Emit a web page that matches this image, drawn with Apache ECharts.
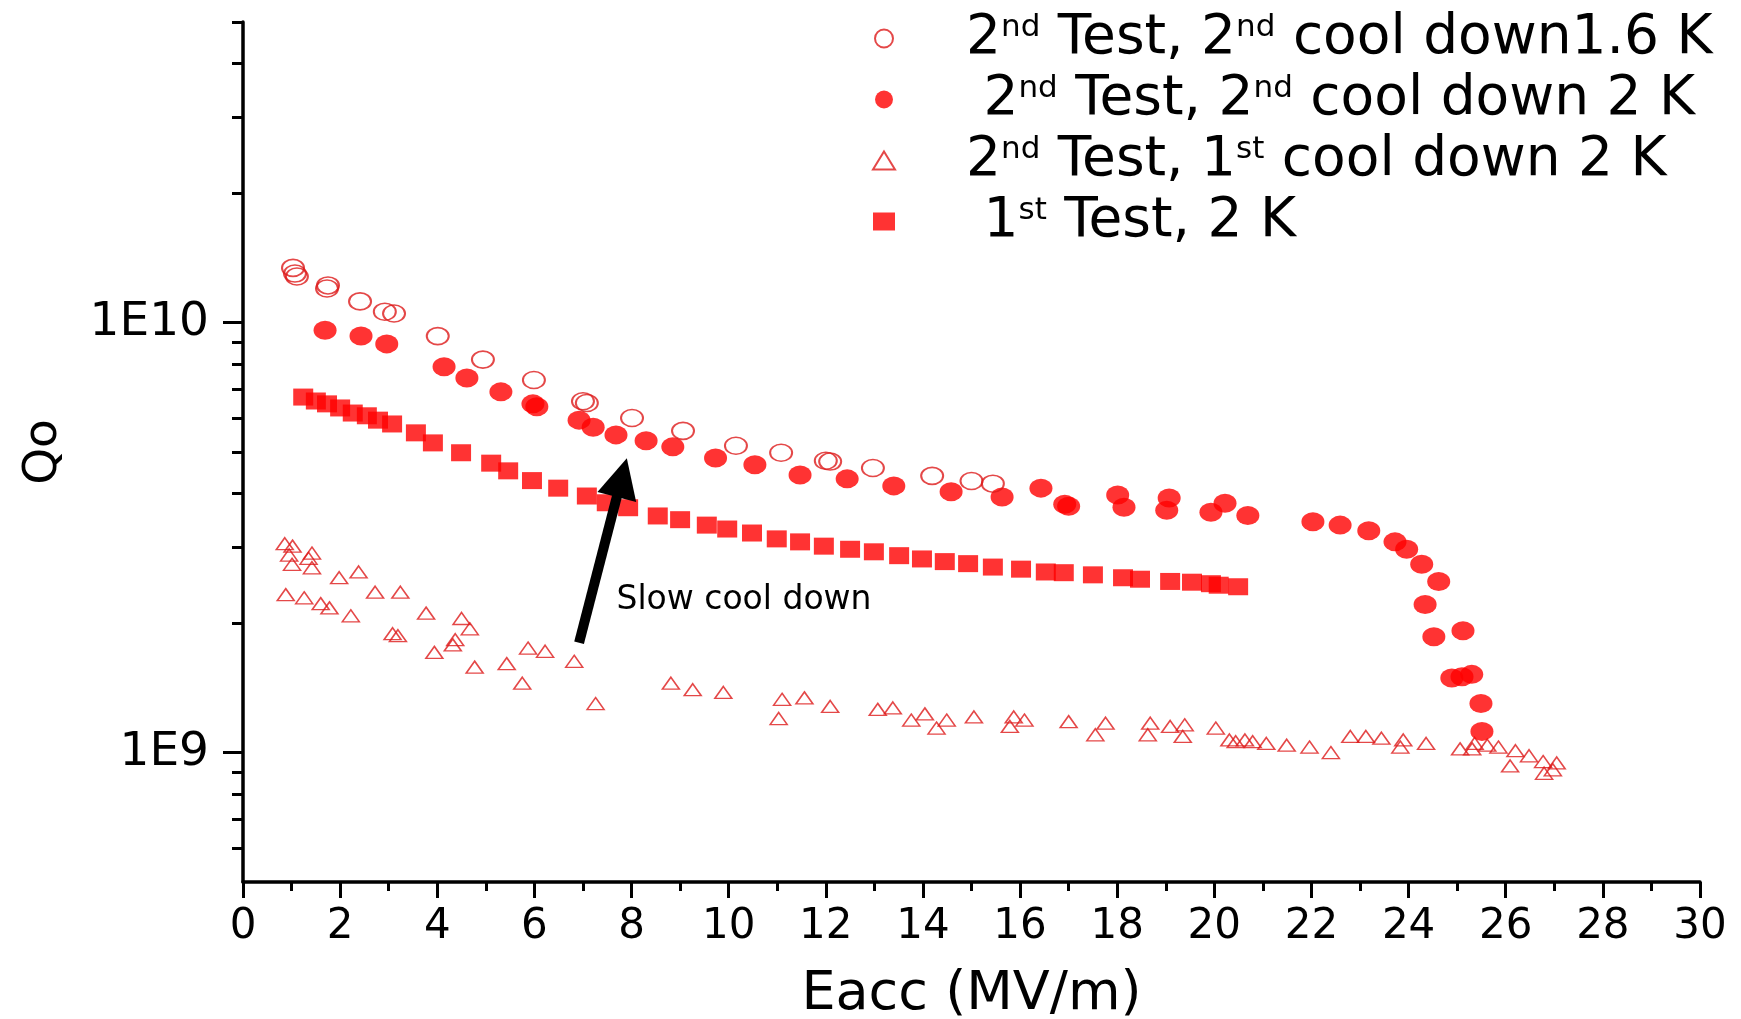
<!DOCTYPE html>
<html>
<head>
<meta charset="utf-8">
<script src="https://cdn.jsdelivr.net/npm/echarts@6.0.0/dist/echarts.min.js"></script>
<style>
  html, body { margin: 0; padding: 0; background: #fff; }
  #chart { width: 1741px; height: 1019px; }
</style>
</head>
<body>
<div id="chart"></div>
<script>
// data: [Eacc (MV/m), Qo]
const test2Cool2At16K = [
  [1.03, 1.34e10], [1.07, 1.30e10], [1.11, 1.28e10], [1.75, 1.22e10], [1.73, 1.20e10],
  [2.41, 1.12e10], [2.92, 1.06e10], [3.11, 1.05e10], [4.01, 9.3e9], [4.94, 8.2e9],
  [5.99, 7.35e9], [7.00, 6.56e9], [7.08, 6.5e9], [8.01, 6.0e9], [9.06, 5.6e9],
  [10.15, 5.17e9], [11.08, 4.98e9], [12.00, 4.77e9], [12.09, 4.75e9], [12.97, 4.59e9],
  [14.19, 4.40e9], [15.00, 4.28e9], [15.44, 4.22e9]
];
const test2Cool2At2K = [
  [1.69, 9.6e9], [2.43, 9.31e9], [2.96, 8.92e9], [4.14, 7.89e9], [4.61, 7.43e9],
  [5.31, 6.9e9], [5.97, 6.47e9], [6.05, 6.37e9], [6.92, 5.93e9], [7.21, 5.71e9],
  [7.68, 5.48e9], [8.30, 5.31e9], [8.85, 5.14e9], [9.73, 4.84e9], [10.54, 4.67e9],
  [11.47, 4.42e9], [12.44, 4.33e9], [13.40, 4.17e9], [14.58, 4.04e9], [15.63, 3.93e9],
  [16.43, 4.12e9], [16.92, 3.78e9], [17.00, 3.74e9], [18.01, 3.97e9], [18.14, 3.72e9],
  [19.07, 3.91e9], [19.02, 3.66e9], [19.93, 3.62e9], [20.22, 3.80e9], [20.69, 3.56e9],
  [22.03, 3.44e9], [22.59, 3.38e9], [23.18, 3.28e9], [23.72, 3.09e9], [23.96, 2.97e9],
  [24.27, 2.74e9], [24.62, 2.50e9], [24.34, 2.21e9], [24.52, 1.86e9], [25.12, 1.92e9],
  [24.89, 1.49e9], [25.10, 1.50e9], [25.30, 1.52e9], [25.49, 1.30e9], [25.51, 1.12e9]
];
const test2Cool1At2K = [
  [0.86, 3.06e9], [1.02, 3.02e9], [0.95, 2.88e9], [1.01, 2.74e9], [1.42, 2.91e9],
  [1.35, 2.83e9], [1.42, 2.69e9], [0.88, 2.33e9], [1.26, 2.29e9], [1.60, 2.22e9],
  [1.78, 2.17e9], [1.98, 2.55e9], [2.38, 2.63e9], [2.22, 2.08e9], [2.72, 2.36e9],
  [3.24, 2.36e9], [3.77, 2.11e9], [4.50, 2.05e9], [4.67, 1.94e9], [3.08, 1.89e9],
  [3.19, 1.87e9], [3.94, 1.71e9], [4.32, 1.78e9], [4.37, 1.83e9], [4.77, 1.58e9],
  [5.43, 1.61e9], [5.75, 1.45e9], [5.87, 1.75e9], [6.22, 1.72e9], [6.82, 1.63e9],
  [7.26, 1.30e9], [8.81, 1.45e9], [9.26, 1.40e9], [9.89, 1.38e9], [11.10, 1.33e9],
  [11.03, 1.20e9], [11.56, 1.34e9], [12.09, 1.28e9], [13.07, 1.26e9], [13.38, 1.27e9],
  [13.76, 1.19e9], [14.04, 1.23e9], [14.28, 1.14e9], [14.49, 1.19e9], [15.05, 1.21e9],
  [15.79, 1.15e9], [15.87, 1.21e9], [16.09, 1.19e9], [17.00, 1.18e9], [17.55, 1.10e9],
  [17.76, 1.17e9], [18.63, 1.10e9], [18.68, 1.17e9], [19.09, 1.15e9], [19.35, 1.09e9],
  [19.39, 1.16e9], [20.03, 1.14e9], [20.31, 1.07e9], [20.44, 1.06e9], [20.63, 1.07e9],
  [20.79, 1.06e9], [21.07, 1.05e9], [21.49, 1.04e9], [21.96, 1.03e9], [22.40, 1.00e9],
  [22.80, 1.09e9], [23.12, 1.09e9], [23.44, 1.08e9], [23.83, 1.03e9], [23.89, 1.07e9],
  [24.36, 1.05e9], [25.06, 1.02e9], [25.31, 1.02e9], [25.36, 1.05e9], [25.62, 1.04e9],
  [25.85, 1.03e9], [26.20, 1.01e9], [26.09, 9.31e8], [26.48, 9.83e8], [26.77, 9.53e8],
  [26.79, 8.95e8], [26.97, 9.12e8], [27.05, 9.46e8]
];
const test1At2K = [
  [1.24, 6.71e9], [1.50, 6.57e9], [1.73, 6.47e9], [2.00, 6.33e9], [2.26, 6.16e9],
  [2.55, 6.07e9], [2.78, 5.93e9], [3.07, 5.81e9], [3.56, 5.54e9], [3.91, 5.25e9],
  [4.49, 4.98e9], [5.11, 4.71e9], [5.46, 4.52e9], [5.95, 4.29e9], [6.49, 4.12e9],
  [7.08, 3.95e9], [7.49, 3.81e9], [7.93, 3.71e9], [8.54, 3.55e9], [9.00, 3.48e9],
  [9.55, 3.38e9], [9.97, 3.31e9], [10.48, 3.24e9], [10.99, 3.14e9], [11.47, 3.09e9],
  [11.96, 3.02e9], [12.50, 2.97e9], [12.99, 2.93e9], [13.51, 2.87e9], [13.98, 2.82e9],
  [14.45, 2.78e9], [14.93, 2.75e9], [15.44, 2.70e9], [16.02, 2.67e9], [16.53, 2.63e9],
  [16.90, 2.62e9], [17.50, 2.59e9], [18.12, 2.55e9], [18.47, 2.53e9], [19.09, 2.50e9],
  [19.54, 2.49e9], [19.93, 2.47e9], [20.09, 2.45e9], [20.49, 2.43e9]
];

// axis ticks
const yMajorTicks = [1e9, 1e10];
const yMinorTicks = [6e8, 7e8, 8e8, 9e8, 2e9, 3e9, 4e9, 5e9, 6e9, 7e9, 8e9, 9e9, 2e10, 3e10, 4e10, 5e10];

// legend names and their superscript markup
const seriesNames = ['t2c2_16', 't2c2_2', 't2c1_2', 't1_2'];
const legendLabels = {
  t2c2_16: '{b|2}{s|nd}{b| Test, 2}{s|nd}{b| cool down1.6 K}',
  t2c2_2: '{b| 2}{s|nd}{b| Test, 2}{s|nd}{b| cool down 2 K}',
  t2c1_2: '{b|2}{s|nd}{b| Test, 1}{s|st}{b| cool down 2 K}',
  t1_2: '{b| 1}{s|st}{b| Test, 2 K}'
};

// arrow annotation ("Slow cool down")
const arrowTail = [6.92, 1.80e9];
const arrowHead = [7.80, 4.36e9];
const noteAt = [7.68, 2.26e9];

const FONT = 'DejaVu Sans';
const RED = '#ff0000';
const RED_LINE = '#dd1a1a';

const chart = echarts.init(document.getElementById('chart'));

const yAxisBase = {
  type: 'log',
  logBase: 10,
  min: 5e8,
  max: 5e10,
  position: 'left',
  splitLine: { show: false }
};

const option = {
  animation: false,
  backgroundColor: '#ffffff',
  grid: { left: 243, right: 41, top: 22, bottom: 137, containLabel: false, outerBoundsMode: 'none' },
  legend: {
    orient: 'vertical',
    left: 867,
    top: 6,
    itemWidth: 22,
    itemHeight: 18,
    itemGap: 6,
    selectedMode: false,
    data: seriesNames,
    formatter: function (name) { return legendLabels[name]; },
    textStyle: {
      color: '#000',
      padding: [0, 0, 0, 66],
      rich: {
        b: { fontFamily: FONT, fontSize: 55, lineHeight: 52, color: '#000' },
        s: { fontFamily: FONT, fontSize: 31, lineHeight: 30, color: '#000', verticalAlign: 'top' }
      }
    }
  },
  xAxis: {
    type: 'value',
    min: 0,
    max: 30,
    interval: 2,
    name: 'Eacc (MV/m)',
    nameLocation: 'middle',
    nameGap: 86,
    nameTextStyle: { fontFamily: FONT, fontSize: 54, color: '#000' },
    axisLine: { show: true, lineStyle: { color: '#000', width: 3.5 } },
    axisTick: { show: true, length: 16, lineStyle: { color: '#000', width: 3 } },
    minorTick: { show: true, splitNumber: 2, length: 9, lineStyle: { color: '#000', width: 3 } },
    axisLabel: { fontFamily: FONT, fontSize: 42, color: '#000', margin: 24 },
    splitLine: { show: false }
  },
  yAxis: [
    Object.assign({}, yAxisBase, {
      name: 'Qo',
      nameLocation: 'middle',
      nameRotate: 90,
      nameGap: 176,
      nameTextStyle: { fontFamily: FONT, fontSize: 47, color: '#000' },
      axisLine: { show: true, lineStyle: { color: '#000', width: 3.5 } },
      axisTick: { show: true, length: 20, customValues: yMajorTicks, lineStyle: { color: '#000', width: 3 } },
      axisLabel: {
        customValues: yMajorTicks,
        fontFamily: FONT, fontSize: 47, color: '#000', margin: 34,
        formatter: function (v) { return '1E' + Math.round(Math.log10(v)); }
      }
    }),
    Object.assign({}, yAxisBase, {
      axisLine: { show: false },
      axisTick: { show: true, length: 11, customValues: yMinorTicks, lineStyle: { color: '#000', width: 3 } },
      axisLabel: { show: false }
    })
  ],
  series: [
    {
      name: 't2c2_16',
      type: 'scatter',
      symbol: 'circle',
      symbolSize: [22, 17],
      data: test2Cool2At16K,
      itemStyle: { color: 'rgba(255,255,255,0)', borderColor: RED_LINE, borderWidth: 1.8 },
      z: 4
    },
    {
      name: 't2c2_2',
      type: 'scatter',
      symbol: 'circle',
      symbolSize: [23, 19],
      data: test2Cool2At2K,
      itemStyle: { color: RED },
      z: 3
    },
    {
      name: 't2c1_2',
      type: 'scatter',
      symbol: 'triangle',
      symbolSize: [17, 12],
      data: test2Cool1At2K,
      itemStyle: { color: 'rgba(255,255,255,0)', borderColor: RED_LINE, borderWidth: 1.5 },
      z: 2,
      markLine: {
        silent: true,
        animation: false,
        symbol: ['none', 'triangle'],
        symbolSize: 40,
        lineStyle: { color: '#000', width: 10, type: 'solid' },
        itemStyle: { color: '#000' },
        label: { show: false },
        emphasis: { disabled: true },
        data: [[{ coord: arrowTail }, { coord: arrowHead }]]
      },
      markPoint: {
        silent: true,
        animation: false,
        data: [{
          coord: noteAt,
          symbol: 'circle',
          symbolSize: 1,
          itemStyle: { color: 'rgba(0,0,0,0)' },
          label: {
            show: true, position: 'right', distance: 0,
            formatter: 'Slow cool down',
            fontFamily: FONT, fontSize: 33, color: '#000'
          }
        }]
      }
    },
    {
      name: 't1_2',
      type: 'scatter',
      symbol: 'rect',
      symbolSize: [20, 17],
      data: test1At2K,
      itemStyle: { color: RED },
      z: 3
    }
  ]
};

chart.setOption(option);

window.addEventListener('resize', function () {
  chart.resize();
});
</script>
</body>
</html>
